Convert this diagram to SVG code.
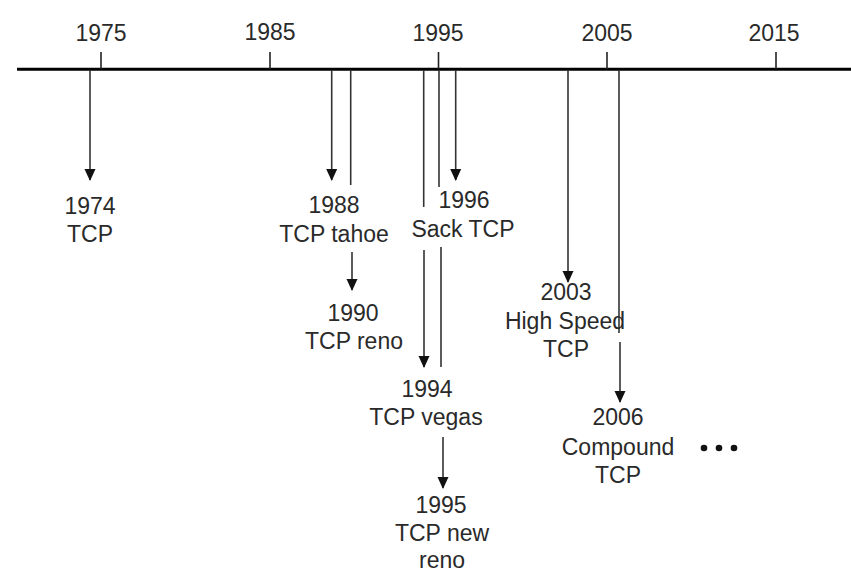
<svg xmlns="http://www.w3.org/2000/svg" width="851" height="572" viewBox="0 0 851 572">
<style>
text{font-family:"Liberation Sans",Arial,sans-serif;font-size:23px;fill:#2a2a2a;text-anchor:middle}
.ln{stroke:#333;stroke-width:1.6;fill:none}
.tick{stroke:#222;stroke-width:1.6}
</style>
<defs>
<marker id="ahd" markerUnits="userSpaceOnUse" markerWidth="12" markerHeight="12" refX="11" refY="6" orient="auto" viewBox="0 0 12 12">
<path d="M0,0.5 L12,6 L0,11.5 Z" fill="#111"/>
</marker>
</defs>
<rect width="851" height="572" fill="#fff"/>
<g id="axis">
<line x1="17" y1="69.3" x2="851" y2="69.3" stroke="#000" stroke-width="3"/>
<line class="tick" x1="101" y1="52" x2="101" y2="69"/>
<line class="tick" x1="270" y1="52" x2="270" y2="69"/>
<line class="tick" x1="438.5" y1="52" x2="438.5" y2="69"/>
<line class="tick" x1="607" y1="52" x2="607" y2="69"/>
<line class="tick" x1="776" y1="52" x2="776" y2="69"/>
<text x="101" y="41">1975</text>
<text x="270" y="40">1985</text>
<text x="438" y="41">1995</text>
<text x="607" y="41">2005</text>
<text x="774" y="41">2015</text>
</g>
<g id="connectors">
<line class="ln" x1="90" y1="70" x2="90" y2="180" marker-end="url(#ahd)"/>
<line class="ln" x1="331.7" y1="70" x2="331.7" y2="180" marker-end="url(#ahd)"/>
<line class="ln" x1="350.7" y1="70" x2="350.7" y2="185"/>
<line class="ln" x1="352" y1="252" x2="352" y2="290" marker-end="url(#ahd)"/>
<line class="ln" x1="423.7" y1="70" x2="423.7" y2="207"/>
<line class="ln" x1="424" y1="250" x2="424" y2="367" marker-end="url(#ahd)"/>
<line class="ln" x1="439" y1="70" x2="439" y2="187"/>
<line class="ln" x1="441" y1="247" x2="441" y2="367"/>
<line class="ln" x1="443" y1="437" x2="443" y2="488" marker-end="url(#ahd)"/>
<line class="ln" x1="455.7" y1="70" x2="455.7" y2="180" marker-end="url(#ahd)"/>
<line class="ln" x1="568" y1="70" x2="568" y2="282" marker-end="url(#ahd)"/>
<line class="ln" x1="619" y1="70" x2="619" y2="333"/>
<line class="ln" x1="620" y1="342" x2="620" y2="402" marker-end="url(#ahd)"/>
</g>
<g id="n1974"><text x="90" y="214">1974</text><text x="90" y="242">TCP</text></g>
<g id="n1988"><text x="334" y="213">1988</text><text x="334" y="242">TCP tahoe</text></g>
<g id="n1990"><text x="353" y="321">1990</text><text x="354" y="349">TCP reno</text></g>
<g id="n1996"><text x="464" y="208">1996</text><text x="463" y="237">Sack TCP</text></g>
<g id="n1994"><text x="427" y="397">1994</text><text x="426" y="425">TCP vegas</text></g>
<g id="n1995"><text x="441" y="513">1995</text><text x="442" y="541">TCP new</text><text x="442" y="568">reno</text></g>
<g id="n2003"><text x="566" y="300">2003</text><text x="565" y="329">High Speed</text><text x="566" y="357">TCP</text></g>
<g id="n2006"><text x="618" y="425">2006</text><text x="618" y="455">Compound</text><text x="618" y="483">TCP</text></g>
<g id="more" fill="#111"><circle cx="704" cy="448" r="3.3"/><circle cx="719" cy="448" r="3.3"/><circle cx="734" cy="448" r="3.3"/></g>
</svg>
